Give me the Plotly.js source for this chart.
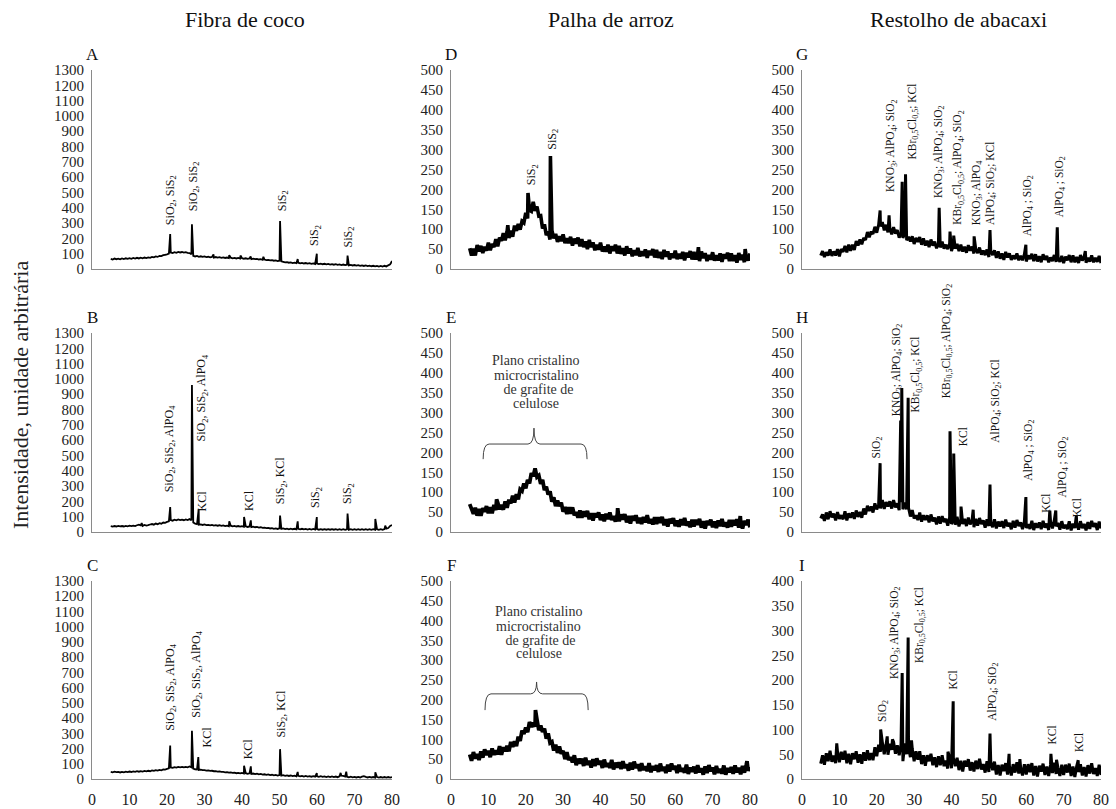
<!DOCTYPE html>
<html><head><meta charset="utf-8">
<script src="https://cdn.plot.ly/plotly-3.0.1.min.js"></script>
<style>html,body{margin:0;padding:0;background:#fff}#chart{width:1116px;height:809px}</style>
</head><body><div id="chart"></div>
<script>
// ---------- DATA ----------
const twoTheta = [5,5.5,6,6.5,7,7.5,8,8.5,9,9.5,10,10.5,11,11.5,12,12.5,13,13.5,14,14.5,15,15.5,16,16.5,17,17.5,18,18.5,19,19.5,20,20.5,21,21.5,22,22.5,23,23.5,24,24.5,25,25.5,26,26.5,27,27.5,28,28.5,29,29.5,30,30.5,31,31.5,32,32.5,33,33.5,34,34.5,35,35.5,36,36.5,37,37.5,38,38.5,39,39.5,40,40.5,41,41.5,42,42.5,43,43.5,44,44.5,45,45.5,46,46.5,47,47.5,48,48.5,49,49.5,50,50.5,51,51.5,52,52.5,53,53.5,54,54.5,55,55.5,56,56.5,57,57.5,58,58.5,59,59.5,60,60.5,61,61.5,62,62.5,63,63.5,64,64.5,65,65.5,66,66.5,67,67.5,68,68.5,69,69.5,70,70.5,71,71.5,72,72.5,73,73.5,74,74.5,75,75.5,76,76.5,77,77.5,78,78.5,79,79.5,80];

// Fibra de coco
const baseA = [66,62,68,64,67,63,69,65,70,66, 71,67,72,68,73,69,74,70,75,71, 76,73,79,76,82,79,86,84,90,93, 96,100,108,104,110,106,112,108,111,107, 110,106,104,96,86,82,85,80,83,79, 82,78,80,76,79,75,78,74,77,73, 76,72,75,71,74,70,73,69,72,68, 71,67,70,66,69,65,68,64,66,62, 64,60,62,58,60,56,58,54,56,52, 54,50,47,43,45,41,43,39,42,38, 41,37,40,36,39,35,38,34,37,33, 36,32,35,31,34,30,33,29,32,28, 31,27,30,26,29,25,28,24,27,23, 26,22,25,21,24,20,23,19,22,18, 21,17,20,16,20,16,21,17,24,30, 52];
const peakXA = [20.85,26.65,32.4,36.6,39.6,42.3,45.7,50.15,54.85,59.95,68.15];
const peakYA = [229,292,95,90,88,82,80,313,65,100,88];

const baseB = [38,35,39,36,40,37,39,36,40,37, 41,38,42,39,44,48,43,40,46,42, 45,49,52,48,55,51,58,54,62,60, 66,70,78,74,80,76,82,78,81,77, 82,78,84,76,62,55,52,48,50,46, 49,45,47,43,46,42,45,41,44,40, 43,39,42,38,41,37,40,36,39,35, 38,34,37,33,36,32,35,31,33,29, 31,27,29,25,27,23,25,21,24,20, 24,20,23,19,22,18,22,18,21,17, 21,17,21,17,20,16,20,16,20,16, 19,15,19,15,19,15,19,15,19,15, 18,14,18,14,18,14,18,14,18,14, 18,14,18,14,18,14,18,14,18,14, 18,14,18,14,18,14,19,22,26,40, 46];
const peakXB = [13.25,20.85,26.65,28.45,36.6,40.55,42.35,50.15,54.85,59.95,68.15,75.55,78.2];
const peakYB = [58,163,960,150,70,98,76,107,70,98,120,85,42];

const baseC = [47,44,48,45,46,43,47,44,48,45, 49,46,50,47,51,48,52,49,53,50, 54,51,56,53,58,55,60,57,63,62, 66,70,76,73,78,75,80,77,79,76, 80,77,82,76,68,64,62,59,61,58, 58,55,56,53,54,51,52,49,50,47, 47,44,45,42,43,40,42,38,40,37, 40,36,38,34,37,33,36,32,35,31, 33,29,31,27,30,26,28,24,27,23, 26,22,25,21,24,20,23,19,22,18, 21,17,20,16,20,16,19,15,19,15, 18,14,18,14,17,13,17,13,17,13, 16,12,18,22,20,16,15,11,15,11, 14,10,14,10,15,19,14,10,14,10, 13,9,13,9,13,9,13,9,13,9, 12];
const peakXC = [20.85,26.65,28.35,40.55,42.35,50.15,54.85,59.95,66.3,67.8,75.55];
const peakYC = [220,316,144,87,83,196,46,39,40,48,44];

// Palha de arroz
const baseD = [52,34,51,34,60,44,58,40,56,46, 66,47,63,55,75,57,79,71,90,72, 94,78,96,81,109,96,113,99,120,116, 141,127,148,145,169,146,157,133,134,102, 112,85,94,74,97,77,88,68,82,70, 87,65,77,65,81,59,76,64,79,57, 75,55,69,50,73,55,67,47,61,49, 66,44,56,44,61,39,57,46,61,39, 58,38,52,34,57,39,52,32,47,35, 53,32,44,33,49,28,46,35,50,29, 48,28,43,25,48,31,44,24,39,28, 46,25,38,26,43,22,41,29,45,24, 43,24,39,20,44,27,40,20,35,24, 42,21,34,22,39,18,37,26,41,20, 39,20,35,16,40,23,36,17,32,21, 39];
const peakXD = [15.2,20.6,26.6,66.2,78.7];
const peakYD = [110,191,284,55,50];

const baseE = [70,58,46,61,41,58,41,60,51,65, 47,62,47,68,55,74,57,68,56,77, 61,81,72,91,74,95,82,107,103,122, 110,131,122,148,140,160,138,142,121,131, 105,114,94,102,76,87,65,79,65,74, 51,63,45,62,46,62,42,50,36,54, 36,52,39,53,32,47,29,47,37,49, 30,44,27,46,32,49,30,40,26,45, 27,44,31,45,24,40,21,40,29,42, 22,36,20,38,24,42,22,32,19,37, 20,37,23,38,17,32,14,33,22,35, 15,29,13,32,17,35,16,26,12,31, 14,31,18,33,11,27,9,28,18,31, 12,26,10,29,15,33,14,24,11,30, 13,30,17,32,11,27,9,28,18,31, 12];
const peakXE = [12.2,44.6,77.4];
const peakYE = [82,60,40];

const baseF = [62,46,68,52,63,48,70,54,75,61, 71,55,77,61,72,62,83,61,80,70, 84,70,94,81,95,83,107,96,122,114, 130,118,144,131,142,132,150,123,135,119, 127,102,115,91,94,72,87,66,82,64, 71,50,68,48,55,42,60,35,51,39, 51,33,54,36,46,29,50,33,52,37, 46,28,49,31,40,28,48,24,41,29, 42,25,45,28,37,21,41,24,44,28, 37,20,40,23,32,20,40,17,33,22, 35,18,39,21,31,15,36,19,39,24, 33,15,36,19,27,16,36,13,29,18, 31,14,35,17,27,11,32,15,35,20, 29,12,33,16,25,14,34,11,28,17, 30,13,34,17,28,12,33,16,36,21, 30];
const peakXF = [22.6,79.2];
const peakYF = [174,45];

// Restolho de abacaxi
const baseG = [34,45,30,42,34,49,33,44,34,50, 32,50,43,58,42,61,46,61,48,70, 59,74,62,78,73,93,80,94,88,106, 91,111,107,118,97,111,92,103,87,105, 89,98,79,89,78,91,72,81,69,82, 63,78,68,80,61,77,59,71,55,74, 59,69,52,64,54,69,51,61,50,64, 45,60,51,63,45,61,44,56,41,60, 46,56,39,50,40,54,36,46,35,49, 30,45,35,47,28,44,26,39,23,43, 29,39,23,34,25,39,22,33,22,37, 19,34,25,38,20,37,19,32,17,37, 23,33,17,29,20,35,18,28,18,33, 15,31,22,35,17,34,17,30,15,35, 21,32,16,28,19,34,17,28,18,33, 15];
const peakXG = [20.9,23.3,26.8,27.7,36.7,39.6,40.6,46.05,50.3,59.9,68.3,75.8];
const peakYG = [147,135,219,238,154,94,84,82,98,61,105,45];

const baseH = [34,44,28,49,32,52,37,46,29,50, 33,42,32,52,29,47,36,49,33,54, 38,50,36,59,44,66,53,64,49,72, 57,68,59,80,58,75,64,77,59,80, 62,72,55,75,57,74,57,61,39,55, 34,42,30,49,26,42,30,42,24,44, 27,36,19,39,21,40,25,33,16,37, 20,29,18,38,14,31,20,33,15,36, 19,29,12,33,16,35,20,29,11,32, 15,23,12,32,9,26,14,27,10,31, 14,23,7,28,11,30,15,24,7,27, 10,19,8,28,5,22,11,24,7,28, 11,21,5,26,9,29,14,23,6,27, 9,18,7,27,4,21,10,23,6,27, 10,20,4,25,8,28,13,22,5,26, 9];
const peakXH = [20.9,26.4,26.7,28.4,39.6,40.6,42.55,45.8,50.3,59.9,66.3,67.9,73.4];
const peakYH = [173,280,362,337,253,197,64,56,119,88,54,54,41];

const baseI = [31,48,29,52,36,57,35,47,32,55, 34,55,39,57,32,51,30,52,40,56, 33,50,31,54,37,58,38,52,38,64, 46,69,55,74,50,70,49,71,59,75, 51,68,48,70,36,72,50,64,44,61, 36,56,39,56,30,48,27,48,36,51, 28,44,24,46,28,48,26,37,21,43, 22,42,26,43,18,37,15,37,25,40, 17,34,15,37,20,41,19,30,13,36, 14,35,18,35,9,28,7,29,16,32, 9,26,7,30,13,34,11,23,7,30, 9,30,14,32,7,26,5,27,15,31, 8,25,6,29,12,33,10,22,6,29, 8,29,13,31,6,25,4,26,14,30, 7,24,5,28,11,32,10,22,6,29, 8];
const peakXI = [9.3,21.05,22.8,24.2,26.8,28.4,29.3,39.05,40.45,50.3,55.4,58.3,66.6,68.1,73.9];
const peakYI = [72,100,86,80,214,286,78,55,157,92,51,40,51,39,38];

// Text
const columnTitles = ['Fibra de coco','Palha de arroz','Restolho de abacaxi'];
const panelLetters = ['A','B','C','D','E','F','G','H','I'];
const yTitle = 'Intensidade, unidade arbitrária';
const bandText = ['Plano cristalino','microcristalino',' de grafite de','celulose'];
const xTicks = [0,10,20,30,40,50,60,70,80];

const S2='SiS<sub>2</sub>', O2='SiO<sub>2</sub>', AL='AlPO<sub>4</sub>', KN='KNO<sub>3</sub>', KB='KBr<sub>0,5</sub>Cl<sub>0,5</sub>';
const namesA = [O2+', '+S2, O2+', '+S2, S2, S2, S2];
const namesB = [O2+', '+S2+', '+AL, O2+', '+S2+', '+AL, 'KCl', 'KCl', S2+', KCl', S2, S2];
const namesC = [O2+', '+S2+', '+AL, O2+', '+S2+', '+AL, 'KCl', 'KCl', S2+', KCl'];
const namesD = [S2, S2];
const namesG = [KN+'; '+AL+'; '+O2, KB+'; KCl', KN+'; '+AL+'; '+O2, KB+'; '+AL+'; '+O2, KN+'; '+AL, AL+'; '+O2+'; KCl', AL+' ; '+O2, AL+' ; '+O2];
const namesH = [O2, KN+'; '+AL+'; '+O2, KB+'; KCl', KB+'; '+AL+'; '+O2, 'KCl', AL+'; '+O2+'; KCl', AL+' ; '+O2, 'KCl', AL+' ; '+O2, 'KCl'];
const namesI = [O2, KN+'; '+AL+'; '+O2, KB+'; KCl', 'KCl', AL+'; '+O2, 'KCl', 'KCl'];

// ---------- BUILD ----------
function series(base, px, py){
  const pts = twoTheta.map((x,i)=>[x, base[i]]);
  px.forEach((x,i)=>pts.push([x, py[i]]));
  pts.sort((a,b)=>a[0]-b[0]);
  return {x: pts.map(p=>p[0]), y: pts.map(p=>p[1])};
}
const panels = [
  [baseA,peakXA,peakYA],[baseB,peakXB,peakYB],[baseC,peakXC,peakYC],
  [baseD,peakXD,peakYD],[baseE,peakXE,peakYE],[baseF,peakXF,peakYF],
  [baseG,peakXG,peakYG],[baseH,peakXH,peakYH],[baseI,peakXI,peakYI]
];
const lineW = [1.8,1.8,1.8,3.6,3.8,3.8,3,3,3];
const FONT = '"Liberation Serif", "Times New Roman", serif';
const W = 1116, H = 809;
const colPx = [[92,392],[451,750],[802,1101]];
const rowPx = [[70,269],[333,532],[581,779]];
const yMax = [1300,1300,1300,500,500,500,500,500,400];
const yDt  = [100,100,100,50,50,50,50,50,50];

const traces = [];
const layout = {
  width: W, height: H, margin:{l:0,r:0,t:0,b:0},
  paper_bgcolor:'#fff', plot_bgcolor:'rgba(0,0,0,0)',
  showlegend:false, annotations:[], shapes:[]
};
panels.forEach((p,k)=>{
  const n = k+1, col = Math.floor(k/3), row = k%3;
  const s = series(p[0],p[1],p[2]);
  traces.push({x:s.x, y:s.y, type:'scatter', mode:'lines',
    line:{color:'#000', width: lineW[k], shape:'linear', simplify:false}, hoverinfo:'skip',
    xaxis:'x'+(n===1?'':n), yaxis:'y'+(n===1?'':n)});
  layout['xaxis'+(n===1?'':n)] = {
    domain:[colPx[col][0]/W, colPx[col][1]/W], range:[0,80],
    tickvals: xTicks, ticktext: xTicks.map(String),
    showline:true, linecolor:'#8a8a8a', linewidth:1, showgrid:false, zeroline:false,
    ticks:'', showticklabels: row===2, ticklabelstandoff:6,
    tickfont:{family:FONT, size:16, color:'#222'},
    anchor:'y'+(n===1?'':n), fixedrange:true
  };
  layout['yaxis'+(n===1?'':n)] = {
    domain:[1-rowPx[row][1]/H, 1-rowPx[row][0]/H], range:[0,yMax[k]],
    dtick:yDt[k], tick0:0,
    showline:true, linecolor:'#8a8a8a', linewidth:1, showgrid:false, zeroline:false,
    ticks:'', ticklabelstandoff:4,
    tickfont:{family:FONT, size:15, color:'#222'},
    anchor:'x'+(n===1?'':n), fixedrange:true
  };
  layout.annotations.push({xref:'paper', yref:'paper', x:colPx[col][0]/W,
    y:1-(rowPx[row][0]-16)/H, text:panelLetters[k], showarrow:false,
    xanchor:'center', yanchor:'middle', font:{family:FONT, size:17, color:'#111'}});
});

const titleX = [245, 611, 958];
columnTitles.forEach((t,i)=>layout.annotations.push({xref:'paper', yref:'paper',
  x:titleX[i]/W, y:1-20/H, text:t, showarrow:false, xanchor:'center', yanchor:'middle',
  font:{family:FONT, size:22, color:'#111'}}));
layout.annotations.push({xref:'paper', yref:'paper', x:20/W, y:1-395/H, text:yTitle,
  textangle:-90, showarrow:false, xanchor:'center', yanchor:'middle',
  font:{family:FONT, size:22, color:'#222'}});

// peak labels (positions in data units: [x, bottom of label])
const labelPos = {
  1:[[20.9,276],[27.2,364],[50.8,364],[59.5,135],[68.4,128]],
  2:[[20.8,243],[29.3,581],[29.3,124],[41.7,124],[50.6,167],[59.9,145],[68.3,167]],
  3:[[21.0,305],[28.1,388],[30.7,191],[41.7,115],[50.6,257]],
  4:[[21.6,206],[27.2,295]],
  7:[[24.0,189],[29.6,269],[36.5,173],[41.9,105],[46.7,105],[50.4,105],[60.5,76],[69.0,126]],
  8:[[20.1,180],[25.3,286],[30.5,295],[38.7,330],[43.0,211],[52.0,219],[60.5,123],[65.2,44],[69.9,81],[73.6,31]],
  9:[[21.5,112],[24.9,197],[31.4,231],[40.3,177],[50.9,114],[66.8,66],[74.3,51]]
};
const labelNames = {1:namesA,2:namesB,3:namesC,4:namesD,7:namesG,8:namesH,9:namesI};
Object.keys(labelPos).forEach(key=>{
  const n = +key, sfx = n===1?'':n;
  labelPos[key].forEach((pos,i)=>layout.annotations.push({
    xref:'x'+sfx, yref:'y'+sfx, x:pos[0], y:pos[1], text:labelNames[key][i],
    textangle:-90, showarrow:false, xanchor:'center', yanchor:'bottom',
    font:{family:FONT, size: n>=7 ? 11.5 : 12, color:'#111'}}));
});

const braceDef = [
  {n:5, l:8.6, r:36.4, c:22.2, yb:183, yh:221, yt:261, lines:[430,394,359,324]},
  {n:6, l:9.1, r:36.7, c:22.9, yb:174, yh:215, yt:245, lines:[422,386,351,318]}
];
braceDef.forEach(b=>{
  const path = `M ${b.l},${b.yb} Q ${b.l},${b.yh} ${b.l+1.6},${b.yh} L ${b.c-1.6},${b.yh} Q ${b.c},${b.yh} ${b.c},${b.yt} Q ${b.c},${b.yh} ${b.c+1.6},${b.yh} L ${b.r-1.6},${b.yh} Q ${b.r},${b.yh} ${b.r},${b.yb}`;
  layout.shapes.push({type:'path', xref:'x'+b.n, yref:'y'+b.n, path:path,
    line:{color:'#444', width:1}});
  bandText.forEach((t,i)=>layout.annotations.push({xref:'x'+b.n, yref:'y'+b.n,
    x:b.c+0.6, y:b.lines[i], text:t, showarrow:false, xanchor:'center', yanchor:'middle',
    font:{family:FONT, size:14, color:'#333'}}));
});

Plotly.newPlot('chart', traces, layout, {displayModeBar:false, staticPlot:true});
</script>
</body></html>
